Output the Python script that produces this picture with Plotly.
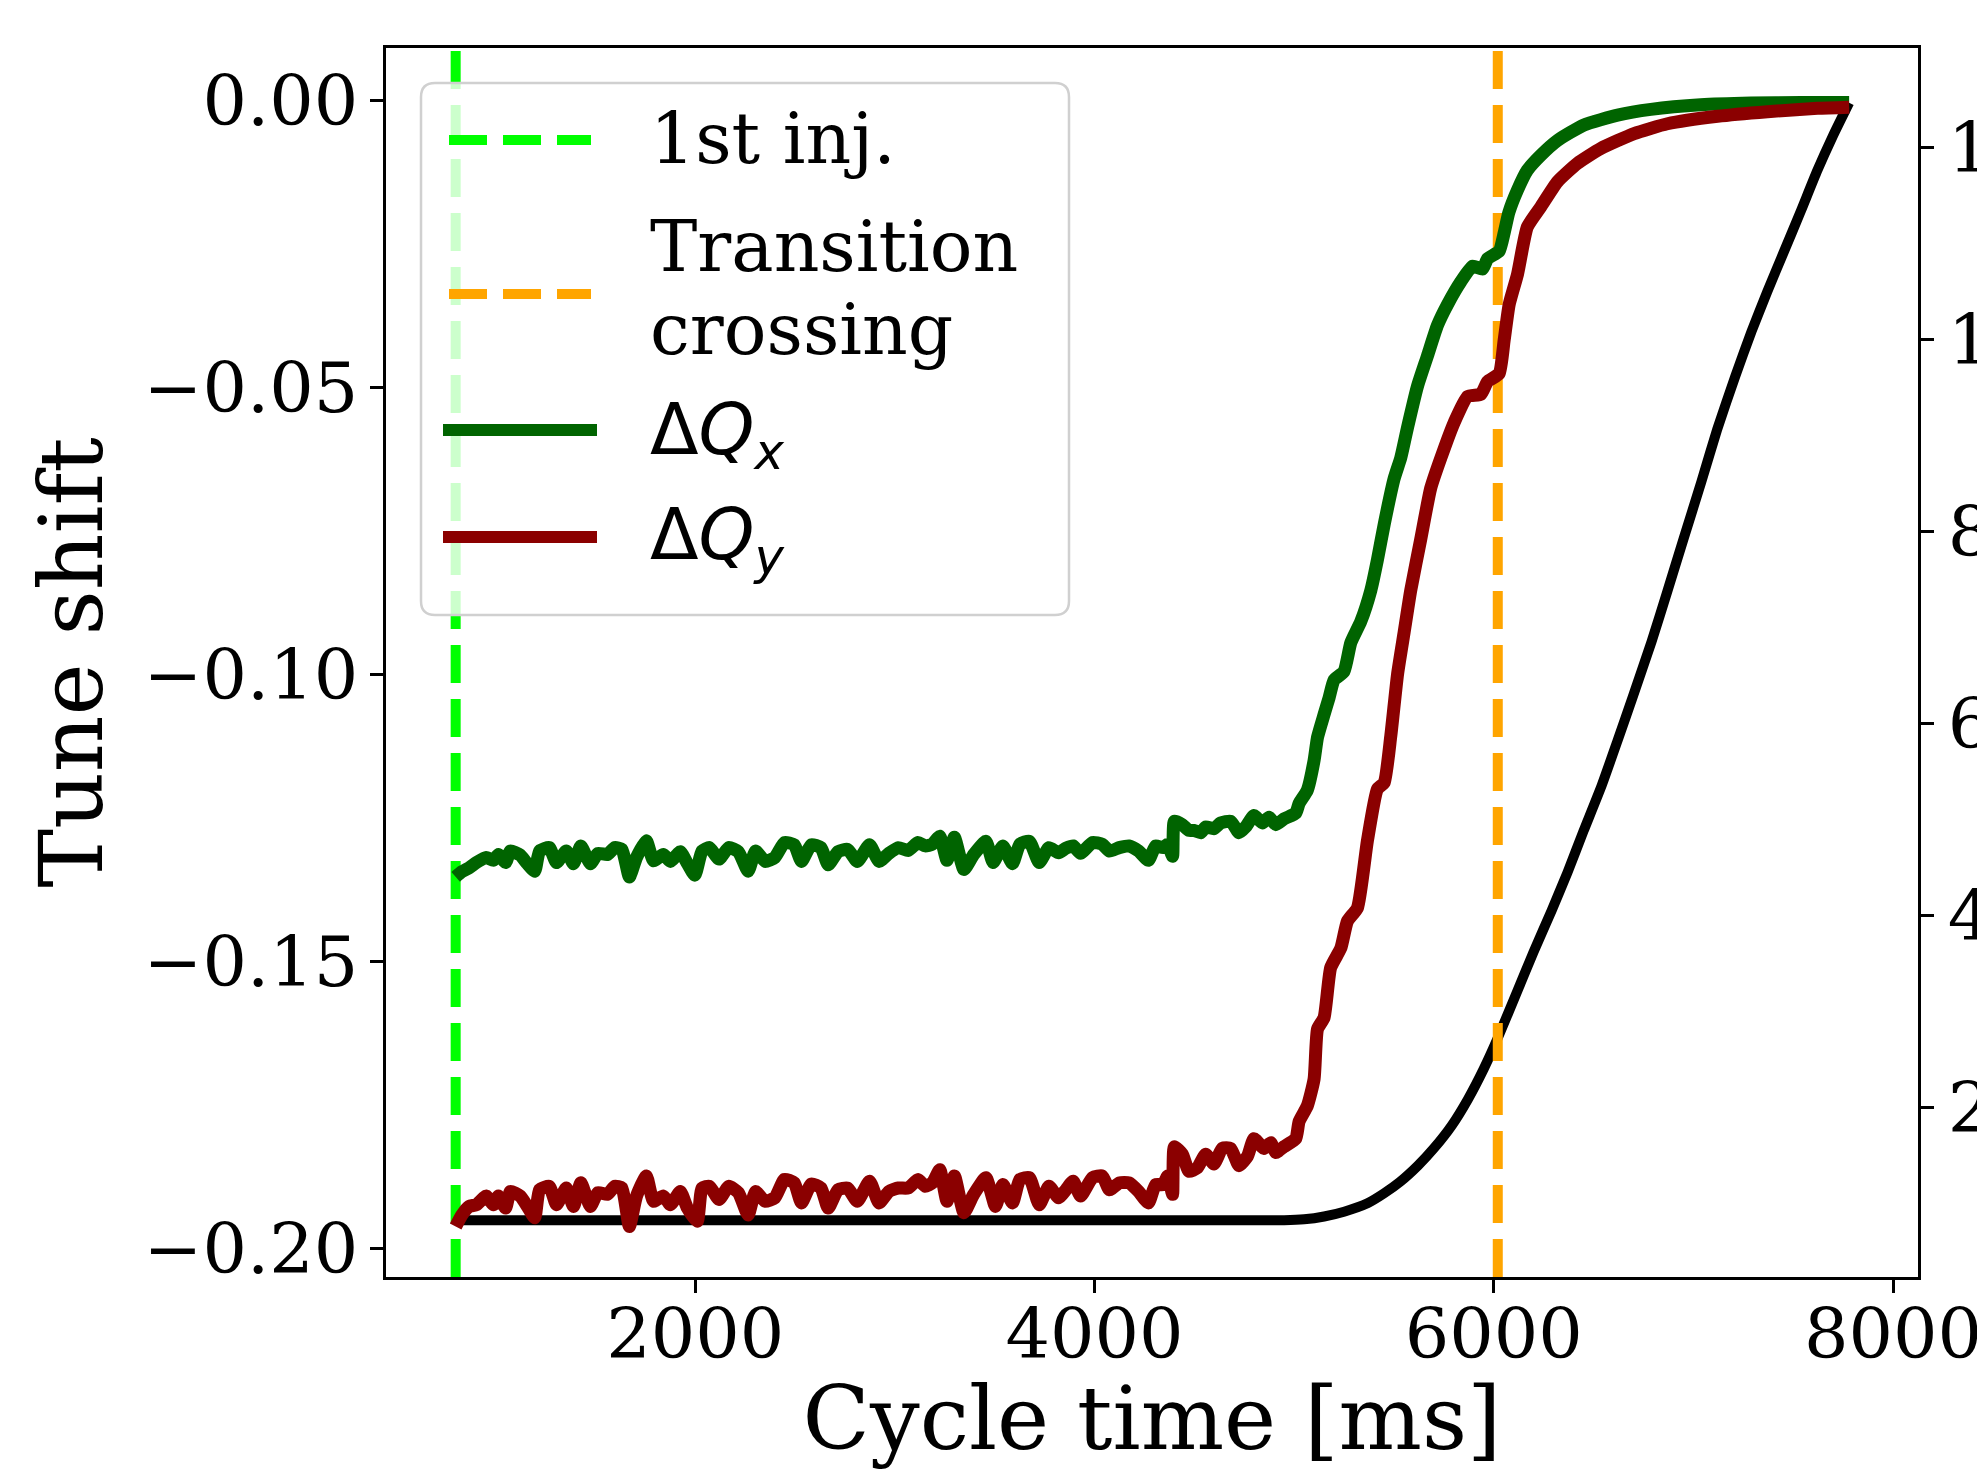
import plotly.graph_objects as go

# ---------------- data ----------------
t_inj = 800      # first injection [ms]
t_tr = 6020      # transition crossing [ms]

t_qx = [800, 831, 868, 904, 953, 989, 1014, 1050, 1074, 1123, 1159, 1196, 1220, 1269, 1305, 1354,
        1390, 1427, 1475, 1512, 1560, 1597, 1633, 1670, 1706, 1755, 1791, 1840, 1876, 1925, 1961,
        1998, 2034, 2071, 2119, 2168, 2216, 2265, 2302, 2350, 2399, 2447, 2496, 2532, 2581, 2630,
        2666, 2715, 2763, 2812, 2873, 2921, 2970, 3018, 3067, 3116, 3152, 3188, 3225, 3261, 3298,
        3346, 3395, 3456, 3492, 3541, 3589, 3626, 3674, 3723, 3772, 3820, 3857, 3893, 3930, 3990,
        4039, 4075, 4124, 4173, 4221, 4270, 4306, 4343, 4367, 4391,
        4400, 4440, 4473, 4498, 4532, 4557, 4598, 4632, 4682, 4724, 4757, 4799, 4841, 4874, 4908,
        4949, 5008, 5025, 5066, 5100, 5117, 5150, 5175, 5200, 5250, 5284, 5334, 5384, 5417, 5451,
        5501, 5534, 5568, 5618, 5668, 5718, 5768, 5835, 5894, 5944, 5969, 6027, 6052, 6076, 6118,
        6168, 6235, 6319, 6452, 6620, 6787, 7037, 7288, 7539, 7780]
qx = [-0.1353, -0.1344, -0.1337, -0.1328, -0.1319, -0.1324, -0.1314, -0.1328, -0.1308, -0.1315,
      -0.1330, -0.1343, -0.1308, -0.1302, -0.1328, -0.1308, -0.1330, -0.1299, -0.1330, -0.1312,
      -0.1314, -0.1302, -0.1305, -0.1353, -0.1319, -0.1290, -0.1325, -0.1314, -0.1326, -0.1309,
      -0.1330, -0.1350, -0.1308, -0.1302, -0.1322, -0.1302, -0.1309, -0.1343, -0.1308, -0.1326,
      -0.1319, -0.1293, -0.1297, -0.1326, -0.1297, -0.1302, -0.1332, -0.1309, -0.1305, -0.1326,
      -0.1297, -0.1326, -0.1312, -0.1302, -0.1307, -0.1293, -0.1299, -0.1296, -0.1282, -0.1324,
      -0.1284, -0.1340, -0.1314, -0.1291, -0.1328, -0.1299, -0.1330, -0.1296, -0.1291, -0.1328,
      -0.1302, -0.1311, -0.1303, -0.1299, -0.1312, -0.1293, -0.1296, -0.1308, -0.1302, -0.1299,
      -0.1308, -0.1324, -0.1299, -0.1302, -0.1296, -0.1317,
      -0.1256, -0.1262, -0.1272, -0.1272, -0.1276, -0.1266, -0.1269, -0.1259, -0.1256, -0.1276,
      -0.1266, -0.1246, -0.1259, -0.1249, -0.1262, -0.1252, -0.1242, -0.1225, -0.1202, -0.1150,
      -0.1110, -0.1070, -0.1041, -0.1010, -0.0995, -0.0945, -0.0908, -0.0854, -0.0801, -0.0739,
      -0.0659, -0.0623, -0.0570, -0.0498, -0.0445, -0.0392, -0.0356, -0.0316, -0.0289, -0.0294,
      -0.0276, -0.0263, -0.0231, -0.0195, -0.0157, -0.0122, -0.0096, -0.0070, -0.0043, -0.0026,
      -0.0016, -0.0008, -0.0005, -0.0004, -0.0004]

t_qy = [800, 831, 868, 904, 953, 989, 1014, 1050, 1074, 1123, 1159, 1196, 1220, 1269, 1305, 1354,
        1390, 1427, 1475, 1512, 1560, 1597, 1633, 1670, 1706, 1755, 1791, 1840, 1876, 1925, 1961,
        2010, 2034, 2071, 2119, 2168, 2216, 2265, 2302, 2350, 2399, 2447, 2496, 2532, 2581, 2630,
        2666, 2715, 2763, 2812, 2873, 2921, 2970, 3018, 3067, 3116, 3152, 3188, 3225, 3261, 3298,
        3346, 3395, 3456, 3504, 3541, 3589, 3626, 3674, 3723, 3772, 3820, 3857, 3893, 3930, 3990,
        4039, 4075, 4124, 4173, 4221, 4270, 4306, 4343, 4367, 4391,
        4400, 4440, 4473, 4515, 4557, 4598, 4640, 4682, 4724, 4766, 4799, 4849, 4883, 4908, 4949,
        5008, 5025, 5066, 5100, 5117, 5150, 5183, 5234, 5267, 5317, 5367, 5417, 5451, 5484, 5518,
        5551, 5584, 5634, 5684, 5735, 5802, 5869, 5936, 5969, 6027, 6052, 6077, 6119, 6168, 6235,
        6319, 6419, 6536, 6703, 6870, 7121, 7371, 7622, 7780]
qy = [-0.1962, -0.1942, -0.1927, -0.1924, -0.1909, -0.1924, -0.1909, -0.1930, -0.1901, -0.1909,
      -0.1927, -0.1947, -0.1898, -0.1892, -0.1924, -0.1895, -0.1927, -0.1886, -0.1927, -0.1903,
      -0.1906, -0.1892, -0.1895, -0.1962, -0.1909, -0.1874, -0.1918, -0.1909, -0.1924, -0.1901,
      -0.1930, -0.1953, -0.1895, -0.1892, -0.1915, -0.1892, -0.1903, -0.1942, -0.1901, -0.1918,
      -0.1912, -0.1880, -0.1886, -0.1921, -0.1888, -0.1895, -0.1930, -0.1898, -0.1895, -0.1918,
      -0.1883, -0.1921, -0.1901, -0.1895, -0.1895, -0.1880, -0.1892, -0.1886, -0.1863, -0.1918,
      -0.1874, -0.1938, -0.1906, -0.1877, -0.1927, -0.1889, -0.1921, -0.1880, -0.1877, -0.1924,
      -0.1892, -0.1912, -0.1898, -0.1883, -0.1909, -0.1877, -0.1874, -0.1898, -0.1886, -0.1886,
      -0.1901, -0.1921, -0.1889, -0.1889, -0.1874, -0.1906,
      -0.1823, -0.1836, -0.1866, -0.1860, -0.1836, -0.1853, -0.1826, -0.1826, -0.1856, -0.1840,
      -0.1809, -0.1826, -0.1816, -0.1833, -0.1823, -0.1809, -0.1779, -0.1752, -0.1705, -0.1618,
      -0.1598, -0.1511, -0.1477, -0.1430, -0.1407, -0.1290, -0.1200, -0.1189, -0.1108, -0.1000,
      -0.0927, -0.0854, -0.0765, -0.0676, -0.0623, -0.0561, -0.0516, -0.0512, -0.0490, -0.0476,
      -0.0418, -0.0356, -0.0303, -0.0221, -0.0186, -0.0142, -0.0110, -0.0084, -0.0058, -0.0041,
      -0.0028, -0.0020, -0.0014, -0.0012]

t_ramp = [800, 4950, 5050, 5150, 5250, 5370, 5450, 5530, 5620, 5700, 5790, 5870, 5950, 6020, 6120,
          6200, 6290, 6370, 6450, 6540, 6620, 6700, 6790, 6870, 6950, 7040, 7120, 7210, 7290, 7370,
          7450, 7540, 7620, 7700, 7780]
ramp = [0.82, 0.82, 0.83, 0.86, 0.91, 1.00, 1.10, 1.22, 1.39, 1.57, 1.81, 2.08, 2.40, 2.72, 3.22,
        3.62, 4.05, 4.45, 4.88, 5.35, 5.82, 6.30, 6.85, 7.38, 7.92, 8.52, 9.07, 9.62, 10.08, 10.50,
        10.90, 11.35, 11.76, 12.13, 12.47]

x_ticks = [2000, 4000, 6000, 8000]
left_ticks = [-0.20, -0.15, -0.10, -0.05, 0.00]
left_ticktext = ["\u22120.20", "\u22120.15", "\u22120.10", "\u22120.05", "0.00"]
right_ticks = [2, 4, 6, 8, 10, 12]

legend_labels = ["1st inj.", "Transition", "crossing",
                 "<span style='font-family:DejaVu Sans'>\u0394<i>Q</i><sub><i>x</i></sub></span>",
                 "<span style='font-family:DejaVu Sans'>\u0394<i>Q</i><sub><i>y</i></sub></span>"]

# ---------------- layout geometry ----------------
W, H = 1977, 1470
L, R, T, B = 386, 1918, 48, 1277
x_range = [451, 8125]
y_range = [-0.2050, 0.0091]
y2_range = [0.229, 13.04]

C_INJ, C_TR, C_X, C_Y = "#00ff00", "#ffa500", "#006400", "#8b0000"
DASH = "38px,16px"
TICK_FS, TITLE_FS, LEG_FS = 70, 88, 71


def px(x):
    return (x - L) / (R - L)


def py(y):
    return (B - y) / (B - T)


fig = go.Figure()
fig.add_trace(go.Scatter(x=t_ramp, y=ramp, yaxis="y", mode="lines",
                         line=dict(color="black", width=10, shape="spline", smoothing=0.5),
                         showlegend=False, hoverinfo="skip"))
fig.add_trace(go.Scatter(x=[t_inj, t_inj], y=y_range, yaxis="y2", mode="lines",
                         line=dict(color=C_INJ, width=10, dash=DASH), name="1st inj."))
fig.add_trace(go.Scatter(x=[t_tr, t_tr], y=y_range, yaxis="y2", mode="lines",
                         line=dict(color=C_TR, width=10, dash=DASH), name="Transition crossing"))
fig.add_trace(go.Scatter(x=t_qx, y=qx, yaxis="y2", mode="lines",
                         line=dict(color=C_X, width=13, shape="spline", smoothing=0.5), name="ΔQx"))
fig.add_trace(go.Scatter(x=t_qy, y=qy, yaxis="y2", mode="lines",
                         line=dict(color=C_Y, width=13, shape="spline", smoothing=0.5), name="ΔQy"))

# ---------------- manual legend ----------------
lx0, lx1, ly0, ly1, rad = 421, 1069, 83, 615, 14
rx, ry = rad / (R - L), rad / (B - T)
X0, X1, YT, YB = px(lx0), px(lx1), py(ly0), py(ly1)
path = (f"M{X0+rx},{YT} L{X1-rx},{YT} Q{X1},{YT} {X1},{YT-ry} L{X1},{YB+ry} "
        f"Q{X1},{YB} {X1-rx},{YB} L{X0+rx},{YB} Q{X0},{YB} {X0},{YB+ry} "
        f"L{X0},{YT-ry} Q{X0},{YT} {X0+rx},{YT} Z")
shapes = [dict(type="path", path=path, xref="paper", yref="paper", layer="above",
               fillcolor="rgba(255,255,255,0.8)", line=dict(color="#d0d0d0", width=2.5))]
handles = [(140, C_INJ, DASH, 449, 591), (294, C_TR, DASH, 449, 591),
           (430, C_X, "solid", 443, 597), (537, C_Y, "solid", 443, 597)]
for yy, col, dash, hx0, hx1 in handles:
    shapes.append(dict(type="line", xref="paper", yref="paper", layer="above",
                       x0=px(hx0), x1=px(hx1), y0=py(yy), y1=py(yy),
                       line=dict(color=col, width=12 if dash == "solid" else 10, dash=dash)))

text_y = [138, 246, 329, 434, 539]
annotations = []
for lab, yy in zip(legend_labels, text_y):
    annotations.append(dict(text=lab, xref="paper", yref="paper", x=px(648), y=py(yy),
                            xanchor="left", yanchor="middle", showarrow=False,
                            font=dict(family="DejaVu Serif", size=LEG_FS, color="black")))

axis_common = dict(ticks="outside", ticklen=13, tickwidth=2.5, tickcolor="black",
                   showline=True, linewidth=2.5, linecolor="black", showgrid=False,
                   zeroline=False, automargin=False, ticklabeloverflow="allow",
                   tickfont=dict(family="DejaVu Serif", size=TICK_FS, color="black"))

fig.update_layout(
    template="none",
    width=W, height=H,
    margin=dict(l=L, r=W - R, t=T, b=H - B, pad=0),
    paper_bgcolor="white", plot_bgcolor="white",
    showlegend=False,
    font=dict(family="DejaVu Serif", color="black"),
    xaxis=dict(range=x_range, tickmode="array", tickvals=x_ticks,
               ticktext=[str(v) for v in x_ticks], mirror=True, ticklabelstandoff=-19,
               title=dict(text="Cycle time [ms]", font=dict(size=TITLE_FS), standoff=4),
               **axis_common),
    yaxis=dict(range=y2_range, side="right", tickmode="array", tickvals=right_ticks,
               ticktext=[str(v) for v in right_ticks], ticklabelstandoff=0,
               **axis_common),
    yaxis2=dict(range=y_range, side="left", overlaying="y", tickmode="array",
                tickvals=left_ticks, ticktext=left_ticktext, ticklabelstandoff=-2,
                title=dict(text="Tune shift", font=dict(size=TITLE_FS), standoff=12),
                **axis_common),
    shapes=shapes,
    annotations=annotations,
)

fig.write_html("out.html")
